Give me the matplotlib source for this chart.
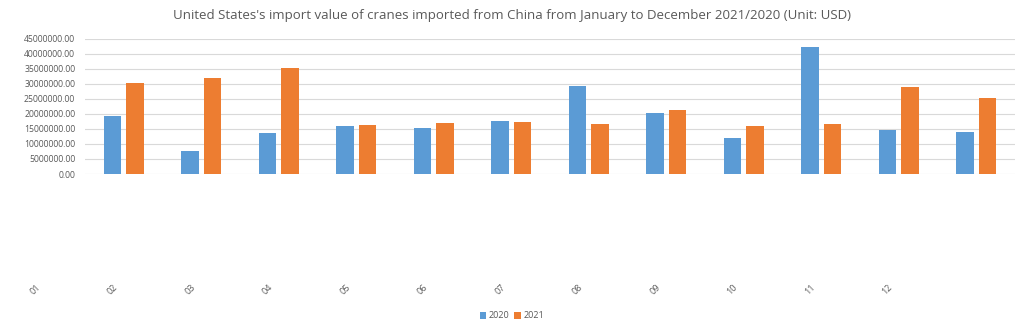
import numpy as np
import matplotlib.pyplot as plt
import matplotlib.transforms as mtransforms

months = ['01', '02', '03', '04', '05', '06', '07', '08', '09', '10', '11', '12']
v2020 = [19.2, 7.7, 13.6, 16.0, 15.2, 17.7, 29.2, 20.3, 12.0, 42.2, 14.7, 13.9]
v2021 = [30.3, 31.9, 35.1, 16.3, 17.1, 17.3, 16.6, 21.1, 15.8, 16.6, 28.9, 25.4]
v2020 = np.array(v2020) * 1e6
v2021 = np.array(v2021) * 1e6

plt.rcParams['font.family'] = ['Open Sans', 'DejaVu Sans']
grey = '#595959'

fig = plt.figure(figsize=(10.24, 3.28), dpi=100)
ax = fig.add_axes([85/1024, 154/328, 930/1024, 135.5/328])

x = np.arange(len(months))
w = 0.22
ax.bar(x - 0.145, v2020, w, color='#5B9BD5', label='2020', zorder=2)
ax.bar(x + 0.145, v2021, w, color='#ED7D31', label='2021', zorder=2)

ax.set_xlim(-0.5, 11.5)
ax.set_ylim(0, 45e6)
ax.set_yticks(np.arange(0, 45e6 + 1, 5e6))
ax.set_yticklabels(['%.2f' % t for t in np.arange(0, 45e6 + 1, 5e6)])
ax.tick_params(axis='y', length=0, labelsize=6.2, labelcolor=grey, pad=7)
ax.set_xticks([])
ax.grid(axis='y', color='#d9d9d9', linewidth=0.8, zorder=0)
for s in ax.spines.values():
    s.set_visible(False)

# category labels sit far below the plot, shifted left
trans = mtransforms.blended_transform_factory(ax.transData, fig.transFigure)
for i, m in enumerate(months):
    ax.text(i - 1.145, 38/328, m, transform=trans, rotation=45, ha='center', va='center',
            fontsize=6.5, color=grey, clip_on=False)

fig.suptitle("United States's import value of cranes imported from China from January to December 2021/2020 (Unit: USD)",
             y=1 - 15/328, va='center', fontsize=9.5, color=grey)

fig.legend(loc='center', bbox_to_anchor=(0.5, 12/328), ncol=2, frameon=False, fontsize=6.5,
           handlelength=0.7, handleheight=0.7, handletextpad=0.3, columnspacing=0.5,
           labelcolor=grey)

plt.savefig('out.png', dpi=100)
